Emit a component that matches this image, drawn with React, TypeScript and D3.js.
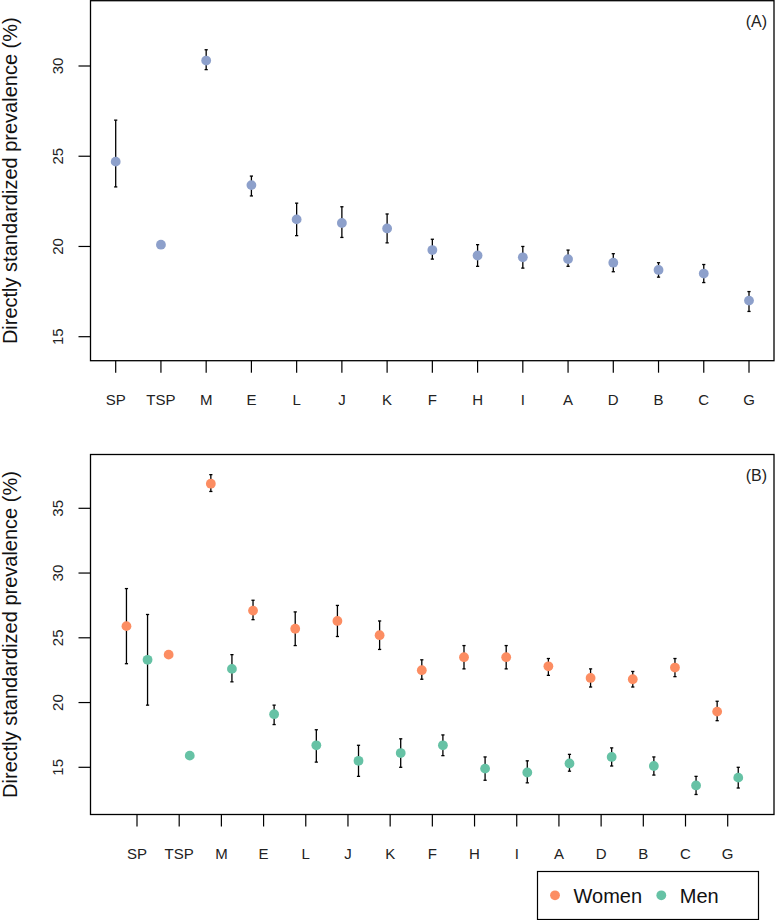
import React from "react";
import * as d3 from "d3";

const categories = ["SP", "TSP", "M", "E", "L", "J", "K", "F", "H", "I", "A", "D", "B", "C", "G"];

const overall = [24.7, 20.1, 30.3, 23.4, 21.5, 21.3, 21.0, 19.8, 19.5, 19.4, 19.3, 19.1, 18.7, 18.5, 17.0];
const overallLo = [23.3, null, 29.8, 22.8, 20.6, 20.5, 20.2, 19.3, 18.9, 18.8, 18.9, 18.6, 18.3, 18.0, 16.4];
const overallHi = [27.0, null, 30.9, 23.9, 22.4, 22.2, 21.8, 20.4, 20.1, 20.0, 19.8, 19.6, 19.1, 19.0, 17.5];

const women = [25.9, 23.7, 36.9, 27.1, 25.7, 26.3, 25.2, 22.5, 23.5, 23.5, 22.8, 21.9, 21.8, 22.7, 19.3];
const womenLo = [23.0, null, 36.3, 26.4, 24.4, 25.1, 24.1, 21.8, 22.6, 22.6, 22.1, 21.2, 21.2, 22.0, 18.6];
const womenHi = [28.8, null, 37.6, 27.9, 27.0, 27.5, 26.3, 23.3, 24.4, 24.4, 23.4, 22.6, 22.4, 23.4, 20.1];

const men = [23.3, 15.9, 22.6, 19.1, 16.7, 15.5, 16.1, 16.7, 14.9, 14.6, 15.3, 15.8, 15.1, 13.6, 14.2];
const menLo = [19.8, null, 21.6, 18.3, 15.4, 14.3, 15.0, 15.9, 14.0, 13.8, 14.7, 15.1, 14.4, 12.9, 13.4];
const menHi = [26.8, null, 23.7, 19.8, 17.9, 16.7, 17.2, 17.5, 15.8, 15.5, 16.0, 16.5, 15.8, 14.3, 15.0];

const ticksA = [15, 20, 25, 30];
const ticksB = [15, 20, 25, 30, 35];

const seriesNames = ["Women", "Men"];

const COL_ALL = "#8DA0CB";
const COL_W = "#FC8D62";
const COL_M = "#66C2A5";
const FONT = "Liberation Sans, Arial, Helvetica, sans-serif";
const YTITLE = "Directly standardized prevalence (%)";

type Pt = { x: number; v: number; lo: number | null; hi: number | null; color: string };

function ErrorBar({ x, y, lo, hi }: { x: number; y: d3.ScaleLinear<number, number>; lo: number | null; hi: number | null }) {
  if (lo == null || hi == null) return null;
  const c = 1.6;
  return (
    <g stroke="#000" strokeWidth={1.3} fill="none">
      <line x1={x} x2={x} y1={y(lo)} y2={y(hi)} />
      <line x1={x - c} x2={x + c} y1={y(lo)} y2={y(lo)} />
      <line x1={x - c} x2={x + c} y1={y(hi)} y2={y(hi)} />
    </g>
  );
}

function Panel({
  top, bottom, left, right, y, ticks, xTicks, points, label, labelY,
}: {
  top: number; bottom: number; left: number; right: number;
  y: d3.ScaleLinear<number, number>; ticks: number[];
  xTicks: number[]; points: Pt[]; label: string; labelY: number;
}) {
  return (
    <g>
      <rect x={left} y={top} width={right - left} height={bottom - top} fill="none" stroke="#000" strokeWidth={1.3} />
      {ticks.map((t) => (
        <g key={t}>
          <line x1={left - 12} x2={left} y1={y(t)} y2={y(t)} stroke="#000" strokeWidth={1.2} />
          <text transform={`translate(63,${y(t)}) rotate(-90)`} textAnchor="middle" fontSize={15} fontFamily={FONT} fill="#222">{t}</text>
        </g>
      ))}
      {xTicks.map((xp, i) => (
        <g key={i}>
          <line x1={xp} x2={xp} y1={bottom} y2={bottom + 12} stroke="#000" strokeWidth={1.2} />
          <text x={xp} y={bottom + 44} textAnchor="middle" fontSize={15} fontFamily={FONT} fill="#222">{categories[i]}</text>
        </g>
      ))}
      <text transform={`translate(17,${(top + bottom) / 2}) rotate(-90)`} textAnchor="middle" fontSize={20} fontFamily={FONT} fill="#111">{YTITLE}</text>
      <text x={right - 7} y={labelY} textAnchor="end" fontSize={16} fontFamily={FONT} fill="#222">{label}</text>
      {points.map((p, i) => (
        <ErrorBar key={"e" + i} x={p.x} y={y} lo={p.lo} hi={p.hi} />
      ))}
      {points.map((p, i) => (
        <circle key={"c" + i} cx={p.x} cy={y(p.v)} r={4.9} fill={p.color} />
      ))}
    </g>
  );
}

export default function App() {
  const idx = d3.range(categories.length);

  const xA = d3.scaleLinear().domain([0, 14]).range([115.7, 749]);
  const yA = d3.scaleLinear().domain([15, 30]).range([336.7, 66]);

  const xB = d3.scaleLinear().domain([0, 14]).range([137, 727.7]);
  const yB = d3.scaleLinear().domain([15, 35]).range([767.3, 508.3]);
  const off = 0.25;

  const ptsA: Pt[] = idx.map((i) => ({ x: xA(i), v: overall[i], lo: overallLo[i], hi: overallHi[i], color: COL_ALL }));
  const ptsB: Pt[] = [
    ...idx.map((i) => ({ x: xB(i - off), v: women[i], lo: womenLo[i], hi: womenHi[i], color: COL_W })),
    ...idx.map((i) => ({ x: xB(i + off), v: men[i], lo: menLo[i], hi: menHi[i], color: COL_M })),
  ];

  const legendCols = [COL_W, COL_M];
  const legendX = [555, 661.3];

  return (
    <svg width={775} height={920} style={{ position: "absolute", left: 0, top: 0, background: "#fff" }}>
      <rect x={0} y={0} width={775} height={920} fill="#fff" />
      <Panel top={0.7} bottom={360.7} left={90.5} right={774} y={yA} ticks={ticksA}
        xTicks={idx.map((i) => xA(i))} points={ptsA} label="(A)" labelY={27} />
      <Panel top={454.5} bottom={814.5} left={90.5} right={774} y={yB} ticks={ticksB}
        xTicks={idx.map((i) => xB(i))} points={ptsB} label="(B)" labelY={481} />
      <g>
        <rect x={537.5} y={871.5} width={221} height={48} fill="#fff" stroke="#000" strokeWidth={1.2} />
        {seriesNames.map((s, i) => (
          <g key={s}>
            <circle cx={legendX[i]} cy={895.3} r={4.9} fill={legendCols[i]} />
            <text x={legendX[i] + 18.5} y={902.5} fontSize={20} fontFamily={FONT} fill="#111">{s}</text>
          </g>
        ))}
      </g>
    </svg>
  );
}
